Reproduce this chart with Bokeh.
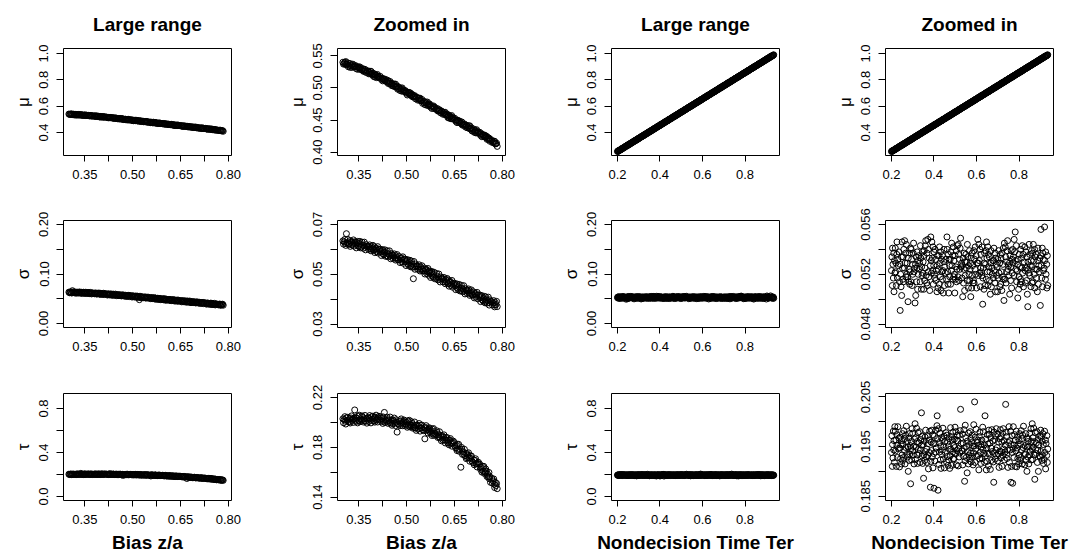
from bokeh.plotting import figure
from bokeh.layouts import column, row
from bokeh.models import Range1d, FixedTicker, PrintfTickFormatter, Title
from bokeh.embed import file_html
from bokeh.resources import INLINE

# ---------------- data ----------------
bias_x = [
    0.300, 0.302, 0.304, 0.306, 0.308, 0.309, 0.311, 0.313, 0.315, 0.317,
    0.320, 0.322, 0.323, 0.325, 0.327, 0.329, 0.331, 0.333, 0.335, 0.337,
    0.339, 0.340, 0.342, 0.344, 0.346, 0.348, 0.350, 0.351, 0.353, 0.355,
    0.358, 0.360, 0.362, 0.364, 0.366, 0.367, 0.369, 0.371, 0.373, 0.375,
    0.379, 0.381, 0.382, 0.384, 0.386, 0.388, 0.390, 0.392, 0.394, 0.396,
    0.397, 0.398, 0.400, 0.402, 0.404, 0.406, 0.408, 0.409, 0.411, 0.413,
    0.417, 0.419, 0.421, 0.423, 0.425, 0.426, 0.428, 0.430, 0.432, 0.434,
    0.437, 0.439, 0.440, 0.442, 0.444, 0.446, 0.448, 0.450, 0.452, 0.454,
    0.456, 0.457, 0.459, 0.461, 0.463, 0.465, 0.467, 0.468, 0.470, 0.472,
    0.475, 0.477, 0.479, 0.481, 0.483, 0.484, 0.486, 0.488, 0.490, 0.492,
    0.495, 0.497, 0.498, 0.500, 0.502, 0.504, 0.506, 0.508, 0.510, 0.512,
    0.514, 0.515, 0.517, 0.519, 0.521, 0.523, 0.525, 0.526, 0.528, 0.530,
    0.533, 0.535, 0.537, 0.539, 0.541, 0.542, 0.544, 0.546, 0.548, 0.550,
    0.554, 0.556, 0.557, 0.559, 0.561, 0.563, 0.565, 0.567, 0.569, 0.571,
    0.572, 0.573, 0.575, 0.577, 0.579, 0.581, 0.583, 0.584, 0.586, 0.588,
    0.592, 0.594, 0.596, 0.598, 0.600, 0.601, 0.603, 0.605, 0.607, 0.609,
    0.612, 0.614, 0.615, 0.617, 0.619, 0.621, 0.623, 0.625, 0.627, 0.629,
    0.630, 0.631, 0.633, 0.635, 0.637, 0.639, 0.641, 0.642, 0.644, 0.646,
    0.650, 0.652, 0.654, 0.656, 0.658, 0.659, 0.661, 0.663, 0.665, 0.667,
    0.670, 0.672, 0.673, 0.675, 0.677, 0.679, 0.681, 0.683, 0.685, 0.687,
    0.689, 0.690, 0.692, 0.694, 0.696, 0.698, 0.700, 0.701, 0.703, 0.705,
    0.708, 0.710, 0.712, 0.714, 0.716, 0.717, 0.719, 0.721, 0.723, 0.725,
    0.729, 0.731, 0.732, 0.734, 0.736, 0.738, 0.740, 0.742, 0.744, 0.746,
    0.747, 0.748, 0.750, 0.752, 0.754, 0.756, 0.758, 0.759, 0.761, 0.763,
    0.767, 0.769, 0.771, 0.773, 0.775, 0.776, 0.778, 0.780, 0.782, 0.784]
bias_mu = [
    0.540, 0.537, 0.538, 0.540, 0.537, 0.541, 0.536, 0.537, 0.539, 0.533,
    0.535, 0.538, 0.532, 0.535, 0.536, 0.532, 0.537, 0.533, 0.534, 0.533,
    0.535, 0.533, 0.530, 0.533, 0.529, 0.532, 0.531, 0.533, 0.529, 0.532,
    0.529, 0.528, 0.530, 0.526, 0.528, 0.526, 0.529, 0.526, 0.524, 0.527,
    0.526, 0.522, 0.524, 0.526, 0.522, 0.526, 0.521, 0.522, 0.523, 0.518,
    0.520, 0.522, 0.517, 0.520, 0.520, 0.516, 0.521, 0.517, 0.518, 0.517,
    0.518, 0.515, 0.513, 0.515, 0.511, 0.514, 0.513, 0.514, 0.511, 0.513,
    0.510, 0.509, 0.512, 0.507, 0.510, 0.507, 0.510, 0.507, 0.504, 0.507,
    0.506, 0.503, 0.504, 0.506, 0.502, 0.506, 0.501, 0.502, 0.503, 0.498,
    0.499, 0.501, 0.496, 0.498, 0.499, 0.495, 0.500, 0.495, 0.497, 0.495,
    0.496, 0.494, 0.492, 0.494, 0.489, 0.493, 0.491, 0.493, 0.489, 0.492,
    0.489, 0.488, 0.490, 0.486, 0.488, 0.486, 0.488, 0.486, 0.483, 0.486,
    0.485, 0.481, 0.483, 0.484, 0.481, 0.484, 0.480, 0.480, 0.482, 0.476,
    0.477, 0.479, 0.474, 0.477, 0.477, 0.473, 0.478, 0.473, 0.475, 0.473,
    0.475, 0.473, 0.470, 0.472, 0.468, 0.471, 0.470, 0.472, 0.468, 0.470,
    0.467, 0.466, 0.468, 0.464, 0.466, 0.464, 0.466, 0.464, 0.461, 0.464,
    0.463, 0.459, 0.461, 0.462, 0.459, 0.462, 0.458, 0.458, 0.459, 0.454,
    0.456, 0.458, 0.453, 0.455, 0.456, 0.452, 0.457, 0.452, 0.454, 0.452,
    0.453, 0.450, 0.448, 0.450, 0.446, 0.450, 0.448, 0.449, 0.446, 0.448,
    0.445, 0.444, 0.447, 0.442, 0.444, 0.442, 0.444, 0.442, 0.439, 0.442,
    0.441, 0.438, 0.439, 0.441, 0.437, 0.441, 0.436, 0.437, 0.438, 0.433,
    0.434, 0.436, 0.431, 0.433, 0.434, 0.430, 0.435, 0.430, 0.432, 0.430,
    0.431, 0.428, 0.426, 0.429, 0.424, 0.427, 0.426, 0.427, 0.424, 0.426,
    0.424, 0.423, 0.425, 0.420, 0.423, 0.420, 0.422, 0.420, 0.417, 0.420,
    0.418, 0.415, 0.416, 0.417, 0.414, 0.417, 0.413, 0.413, 0.414, 0.409]
bias_sigma = [
    0.0634, 0.0621, 0.0630, 0.0640, 0.0624, 0.0616, 0.0663, 0.0627, 0.0640, 0.0620,
    0.0622, 0.0635, 0.0612, 0.0628, 0.0632, 0.0617, 0.0624, 0.0638, 0.0613, 0.0628,
    0.0631, 0.0621, 0.0606, 0.0627, 0.0632, 0.0615, 0.0611, 0.0623, 0.0632, 0.0606,
    0.0610, 0.0629, 0.0618, 0.0604, 0.0615, 0.0629, 0.0608, 0.0598, 0.0619, 0.0612,
    0.0613, 0.0600, 0.0609, 0.0618, 0.0602, 0.0594, 0.0611, 0.0603, 0.0616, 0.0596,
    0.0598, 0.0611, 0.0587, 0.0603, 0.0606, 0.0590, 0.0597, 0.0611, 0.0585, 0.0600,
    0.0601, 0.0590, 0.0575, 0.0595, 0.0599, 0.0583, 0.0578, 0.0589, 0.0598, 0.0572,
    0.0575, 0.0594, 0.0584, 0.0570, 0.0580, 0.0594, 0.0573, 0.0562, 0.0583, 0.0576,
    0.0578, 0.0564, 0.0573, 0.0582, 0.0565, 0.0557, 0.0574, 0.0566, 0.0579, 0.0558,
    0.0559, 0.0571, 0.0547, 0.0563, 0.0566, 0.0550, 0.0557, 0.0570, 0.0544, 0.0559,
    0.0561, 0.0550, 0.0535, 0.0555, 0.0559, 0.0542, 0.0536, 0.0547, 0.0556, 0.0530,
    0.0534, 0.0553, 0.0542, 0.0528, 0.0482, 0.0551, 0.0530, 0.0520, 0.0541, 0.0533,
    0.0534, 0.0520, 0.0529, 0.0538, 0.0520, 0.0513, 0.0529, 0.0521, 0.0534, 0.0513,
    0.0513, 0.0525, 0.0501, 0.0517, 0.0520, 0.0503, 0.0510, 0.0523, 0.0496, 0.0511,
    0.0513, 0.0503, 0.0487, 0.0507, 0.0511, 0.0493, 0.0488, 0.0499, 0.0508, 0.0482,
    0.0484, 0.0503, 0.0492, 0.0477, 0.0487, 0.0501, 0.0480, 0.0469, 0.0489, 0.0482,
    0.0484, 0.0469, 0.0479, 0.0487, 0.0470, 0.0462, 0.0479, 0.0470, 0.0483, 0.0462,
    0.0464, 0.0477, 0.0452, 0.0468, 0.0471, 0.0455, 0.0461, 0.0475, 0.0448, 0.0463,
    0.0464, 0.0453, 0.0438, 0.0457, 0.0461, 0.0445, 0.0439, 0.0450, 0.0459, 0.0433,
    0.0436, 0.0455, 0.0444, 0.0430, 0.0440, 0.0454, 0.0432, 0.0421, 0.0442, 0.0435,
    0.0437, 0.0423, 0.0432, 0.0441, 0.0424, 0.0415, 0.0432, 0.0424, 0.0437, 0.0416,
    0.0417, 0.0429, 0.0405, 0.0421, 0.0423, 0.0408, 0.0415, 0.0427, 0.0401, 0.0416,
    0.0417, 0.0405, 0.0390, 0.0410, 0.0414, 0.0397, 0.0392, 0.0402, 0.0411, 0.0385,
    0.0390, 0.0409, 0.0398, 0.0384, 0.0394, 0.0408, 0.0386, 0.0376, 0.0397, 0.0390,
    0.0390, 0.0376, 0.0385, 0.0394, 0.0377, 0.0369, 0.0386, 0.0378, 0.0391, 0.0370]
bias_tau = [
    0.2029, 0.1997, 0.2023, 0.2046, 0.2009, 0.1987, 0.2036, 0.2017, 0.2041, 0.2006,
    0.2002, 0.2029, 0.1995, 0.2036, 0.2052, 0.2016, 0.2025, 0.2000, 0.2033, 0.2100,
    0.2043, 0.2019, 0.2008, 0.2033, 0.1996, 0.2048, 0.2014, 0.2058, 0.2006, 0.2026,
    0.2018, 0.2052, 0.2040, 0.2003, 0.2028, 0.2013, 0.2056, 0.2009, 0.2032, 0.1994,
    0.2039, 0.2007, 0.2032, 0.2055, 0.2018, 0.1996, 0.2045, 0.2026, 0.2050, 0.2014,
    0.2010, 0.2036, 0.2002, 0.2042, 0.2058, 0.2020, 0.2028, 0.2003, 0.2034, 0.2049,
    0.2043, 0.2018, 0.2006, 0.2030, 0.1992, 0.2044, 0.2008, 0.2080, 0.1999, 0.2018,
    0.2009, 0.2042, 0.2029, 0.1992, 0.2016, 0.2000, 0.2043, 0.1995, 0.2017, 0.1977,
    0.2021, 0.1989, 0.2013, 0.2035, 0.1997, 0.1974, 0.2021, 0.2002, 0.1922, 0.1988,
    0.1983, 0.2008, 0.1973, 0.2013, 0.2028, 0.1991, 0.1999, 0.1973, 0.2004, 0.2019,
    0.2012, 0.1987, 0.1976, 0.1999, 0.1961, 0.2011, 0.1975, 0.2017, 0.1964, 0.1983,
    0.1973, 0.2006, 0.1992, 0.1954, 0.1977, 0.1961, 0.2003, 0.1955, 0.1976, 0.1936,
    0.1979, 0.1946, 0.1969, 0.1991, 0.1952, 0.1930, 0.1976, 0.1956, 0.1978, 0.1941,
    0.1933, 0.1956, 0.1868, 0.1960, 0.1974, 0.1935, 0.1942, 0.1914, 0.1944, 0.1957,
    0.1951, 0.1926, 0.1913, 0.1934, 0.1895, 0.1945, 0.1908, 0.1951, 0.1896, 0.1914,
    0.1902, 0.1933, 0.1918, 0.1879, 0.1902, 0.1885, 0.1925, 0.1875, 0.1895, 0.1852,
    0.1892, 0.1857, 0.1880, 0.1900, 0.1860, 0.1835, 0.1879, 0.1857, 0.1878, 0.1838,
    0.1833, 0.1857, 0.1820, 0.1858, 0.1870, 0.1830, 0.1836, 0.1809, 0.1838, 0.1850,
    0.1838, 0.1810, 0.1795, 0.1815, 0.1774, 0.1823, 0.1784, 0.1824, 0.1768, 0.1784,
    0.1640, 0.1799, 0.1785, 0.1743, 0.1764, 0.1745, 0.1784, 0.1733, 0.1752, 0.1709,
    0.1750, 0.1716, 0.1737, 0.1756, 0.1715, 0.1688, 0.1732, 0.1711, 0.1730, 0.1689,
    0.1678, 0.1699, 0.1660, 0.1696, 0.1708, 0.1668, 0.1672, 0.1642, 0.1670, 0.1680,
    0.1665, 0.1637, 0.1623, 0.1642, 0.1601, 0.1648, 0.1608, 0.1647, 0.1590, 0.1606,
    0.1595, 0.1626, 0.1609, 0.1565, 0.1584, 0.1562, 0.1598, 0.1548, 0.1564, 0.1519,
    0.1550, 0.1512, 0.1530, 0.1546, 0.1503, 0.1477, 0.1519, 0.1493, 0.1510, 0.1468]

ter_x = [
    0.200, 0.202, 0.204, 0.205, 0.207, 0.209, 0.211, 0.212, 0.214, 0.216,
    0.218, 0.219, 0.221, 0.223, 0.225, 0.226, 0.228, 0.230, 0.232, 0.235,
    0.238, 0.240, 0.241, 0.243, 0.245, 0.247, 0.248, 0.250, 0.252, 0.253,
    0.255, 0.257, 0.258, 0.261, 0.262, 0.264, 0.267, 0.268, 0.270, 0.272,
    0.274, 0.276, 0.278, 0.279, 0.281, 0.283, 0.285, 0.286, 0.288, 0.290,
    0.292, 0.293, 0.295, 0.297, 0.299, 0.300, 0.302, 0.304, 0.306, 0.309,
    0.311, 0.313, 0.314, 0.316, 0.318, 0.320, 0.321, 0.323, 0.325, 0.326,
    0.329, 0.331, 0.332, 0.335, 0.336, 0.338, 0.341, 0.342, 0.344, 0.346,
    0.347, 0.349, 0.351, 0.352, 0.354, 0.356, 0.358, 0.359, 0.361, 0.363,
    0.366, 0.367, 0.369, 0.371, 0.373, 0.374, 0.376, 0.378, 0.380, 0.383,
    0.385, 0.387, 0.388, 0.390, 0.392, 0.394, 0.395, 0.397, 0.399, 0.400,
    0.402, 0.404, 0.405, 0.408, 0.409, 0.411, 0.414, 0.415, 0.417, 0.419,
    0.421, 0.423, 0.425, 0.426, 0.428, 0.430, 0.432, 0.433, 0.435, 0.437,
    0.439, 0.440, 0.442, 0.444, 0.446, 0.447, 0.449, 0.451, 0.453, 0.456,
    0.459, 0.461, 0.462, 0.464, 0.466, 0.468, 0.469, 0.471, 0.473, 0.474,
    0.476, 0.478, 0.479, 0.482, 0.483, 0.485, 0.488, 0.489, 0.491, 0.493,
    0.494, 0.496, 0.498, 0.499, 0.501, 0.503, 0.505, 0.506, 0.508, 0.510,
    0.513, 0.514, 0.516, 0.518, 0.520, 0.521, 0.523, 0.525, 0.527, 0.530,
    0.532, 0.534, 0.535, 0.537, 0.539, 0.541, 0.542, 0.544, 0.546, 0.547,
    0.550, 0.552, 0.553, 0.556, 0.557, 0.559, 0.562, 0.563, 0.565, 0.567,
    0.568, 0.570, 0.572, 0.573, 0.575, 0.577, 0.579, 0.580, 0.582, 0.584,
    0.586, 0.587, 0.589, 0.591, 0.593, 0.594, 0.596, 0.598, 0.600, 0.603,
    0.606, 0.608, 0.609, 0.611, 0.613, 0.615, 0.616, 0.618, 0.620, 0.621,
    0.623, 0.625, 0.626, 0.629, 0.630, 0.632, 0.635, 0.636, 0.638, 0.640,
    0.642, 0.644, 0.646, 0.647, 0.649, 0.651, 0.653, 0.654, 0.656, 0.658,
    0.660, 0.661, 0.663, 0.665, 0.667, 0.668, 0.670, 0.672, 0.674, 0.677,
    0.679, 0.681, 0.682, 0.684, 0.686, 0.688, 0.689, 0.691, 0.693, 0.694,
    0.697, 0.699, 0.700, 0.703, 0.704, 0.706, 0.709, 0.710, 0.712, 0.714,
    0.715, 0.717, 0.719, 0.720, 0.722, 0.724, 0.726, 0.727, 0.729, 0.731,
    0.734, 0.735, 0.737, 0.739, 0.741, 0.742, 0.744, 0.746, 0.748, 0.751,
    0.753, 0.755, 0.756, 0.758, 0.760, 0.762, 0.763, 0.765, 0.767, 0.768,
    0.770, 0.772, 0.773, 0.776, 0.777, 0.779, 0.782, 0.783, 0.785, 0.787,
    0.789, 0.791, 0.793, 0.794, 0.796, 0.798, 0.800, 0.801, 0.803, 0.805,
    0.807, 0.808, 0.810, 0.812, 0.814, 0.815, 0.817, 0.819, 0.821, 0.824,
    0.827, 0.829, 0.830, 0.832, 0.834, 0.836, 0.837, 0.839, 0.841, 0.842,
    0.844, 0.846, 0.847, 0.850, 0.851, 0.853, 0.856, 0.857, 0.859, 0.861,
    0.862, 0.864, 0.866, 0.867, 0.869, 0.871, 0.873, 0.874, 0.876, 0.878,
    0.881, 0.882, 0.884, 0.886, 0.888, 0.889, 0.891, 0.893, 0.895, 0.898,
    0.900, 0.902, 0.903, 0.905, 0.907, 0.909, 0.910, 0.912, 0.914, 0.915,
    0.918, 0.920, 0.921, 0.924, 0.925, 0.927, 0.930, 0.931, 0.933, 0.935]
ter_mu = [
    0.256, 0.256, 0.259, 0.262, 0.260, 0.265, 0.266, 0.266, 0.270, 0.269,
    0.272, 0.274, 0.278, 0.276, 0.281, 0.281, 0.282, 0.286, 0.285, 0.291,
    0.293, 0.297, 0.294, 0.299, 0.300, 0.301, 0.304, 0.303, 0.308, 0.307,
    0.312, 0.310, 0.314, 0.316, 0.316, 0.320, 0.320, 0.324, 0.324, 0.327,
    0.330, 0.330, 0.333, 0.336, 0.334, 0.339, 0.340, 0.340, 0.344, 0.343,
    0.346, 0.348, 0.352, 0.350, 0.355, 0.355, 0.356, 0.360, 0.359, 0.365,
    0.366, 0.370, 0.367, 0.372, 0.373, 0.374, 0.377, 0.376, 0.381, 0.380,
    0.386, 0.384, 0.388, 0.390, 0.390, 0.394, 0.394, 0.398, 0.398, 0.401,
    0.403, 0.403, 0.406, 0.409, 0.407, 0.412, 0.413, 0.413, 0.417, 0.416,
    0.420, 0.422, 0.426, 0.424, 0.429, 0.429, 0.430, 0.434, 0.433, 0.439,
    0.440, 0.444, 0.441, 0.446, 0.447, 0.448, 0.451, 0.450, 0.455, 0.454,
    0.459, 0.457, 0.461, 0.463, 0.463, 0.467, 0.467, 0.471, 0.471, 0.474,
    0.477, 0.477, 0.480, 0.483, 0.481, 0.486, 0.487, 0.487, 0.491, 0.490,
    0.493, 0.495, 0.499, 0.497, 0.502, 0.502, 0.503, 0.507, 0.506, 0.512,
    0.514, 0.518, 0.515, 0.520, 0.521, 0.522, 0.525, 0.524, 0.529, 0.528,
    0.533, 0.531, 0.535, 0.537, 0.537, 0.541, 0.541, 0.545, 0.545, 0.548,
    0.550, 0.550, 0.553, 0.556, 0.554, 0.559, 0.560, 0.560, 0.564, 0.563,
    0.567, 0.569, 0.573, 0.571, 0.576, 0.576, 0.577, 0.581, 0.580, 0.586,
    0.587, 0.591, 0.588, 0.593, 0.594, 0.595, 0.598, 0.597, 0.602, 0.601,
    0.607, 0.605, 0.609, 0.611, 0.611, 0.615, 0.615, 0.619, 0.619, 0.622,
    0.624, 0.624, 0.627, 0.630, 0.628, 0.633, 0.634, 0.634, 0.638, 0.637,
    0.640, 0.642, 0.646, 0.644, 0.649, 0.649, 0.650, 0.654, 0.653, 0.659,
    0.661, 0.665, 0.662, 0.667, 0.668, 0.669, 0.672, 0.671, 0.676, 0.675,
    0.680, 0.678, 0.682, 0.684, 0.684, 0.688, 0.688, 0.692, 0.692, 0.695,
    0.698, 0.698, 0.701, 0.704, 0.702, 0.707, 0.708, 0.708, 0.712, 0.711,
    0.714, 0.716, 0.720, 0.718, 0.723, 0.723, 0.724, 0.728, 0.727, 0.733,
    0.734, 0.738, 0.735, 0.740, 0.741, 0.742, 0.745, 0.744, 0.749, 0.748,
    0.754, 0.752, 0.756, 0.758, 0.758, 0.762, 0.762, 0.766, 0.766, 0.769,
    0.771, 0.771, 0.774, 0.777, 0.775, 0.780, 0.781, 0.781, 0.785, 0.784,
    0.788, 0.790, 0.794, 0.792, 0.797, 0.797, 0.798, 0.802, 0.801, 0.807,
    0.808, 0.812, 0.809, 0.814, 0.815, 0.816, 0.819, 0.818, 0.823, 0.822,
    0.827, 0.825, 0.829, 0.831, 0.831, 0.835, 0.835, 0.839, 0.839, 0.842,
    0.845, 0.845, 0.848, 0.851, 0.849, 0.854, 0.855, 0.855, 0.859, 0.858,
    0.861, 0.863, 0.867, 0.865, 0.870, 0.870, 0.871, 0.875, 0.874, 0.880,
    0.882, 0.886, 0.883, 0.888, 0.889, 0.890, 0.893, 0.892, 0.897, 0.896,
    0.901, 0.899, 0.903, 0.905, 0.905, 0.909, 0.909, 0.913, 0.913, 0.916,
    0.918, 0.918, 0.921, 0.924, 0.922, 0.927, 0.928, 0.928, 0.932, 0.931,
    0.935, 0.937, 0.941, 0.939, 0.944, 0.944, 0.945, 0.949, 0.948, 0.954,
    0.955, 0.959, 0.956, 0.961, 0.962, 0.963, 0.966, 0.965, 0.970, 0.969,
    0.975, 0.973, 0.977, 0.979, 0.979, 0.983, 0.983, 0.987, 0.987, 0.990]
ter_sigma = [
    0.0523, 0.0534, 0.0511, 0.0541, 0.0528, 0.0517, 0.0537, 0.0506, 0.0531, 0.0521,
    0.0541, 0.0522, 0.0529, 0.0511, 0.0536, 0.0546, 0.0517, 0.0532, 0.0527, 0.0538,
    0.0514, 0.0528, 0.0491, 0.0520, 0.0510, 0.0534, 0.0503, 0.0546, 0.0525, 0.0516,
    0.0534, 0.0514, 0.0540, 0.0525, 0.0547, 0.0529, 0.0537, 0.0518, 0.0544, 0.0520,
    0.0529, 0.0518, 0.0498, 0.0533, 0.0514, 0.0524, 0.0537, 0.0512, 0.0522, 0.0541,
    0.0514, 0.0540, 0.0532, 0.0511, 0.0528, 0.0520, 0.0537, 0.0545, 0.0522, 0.0525,
    0.0497, 0.0528, 0.0503, 0.0534, 0.0514, 0.0525, 0.0538, 0.0508, 0.0531, 0.0520,
    0.0535, 0.0524, 0.0529, 0.0514, 0.0543, 0.0533, 0.0508, 0.0526, 0.0519, 0.0538,
    0.0521, 0.0530, 0.0535, 0.0508, 0.0539, 0.0515, 0.0525, 0.0543, 0.0547, 0.0519,
    0.0513, 0.0537, 0.0511, 0.0548, 0.0522, 0.0540, 0.0518, 0.0533, 0.0507, 0.0527,
    0.0550, 0.0531, 0.0521, 0.0546, 0.0533, 0.0523, 0.0542, 0.0512, 0.0527, 0.0538,
    0.0520, 0.0517, 0.0540, 0.0532, 0.0515, 0.0523, 0.0506, 0.0527, 0.0535, 0.0509,
    0.0524, 0.0535, 0.0512, 0.0542, 0.0529, 0.0518, 0.0538, 0.0507, 0.0532, 0.0522,
    0.0535, 0.0516, 0.0523, 0.0505, 0.0530, 0.0540, 0.0511, 0.0526, 0.0521, 0.0532,
    0.0516, 0.0550, 0.0540, 0.0522, 0.0512, 0.0536, 0.0505, 0.0532, 0.0527, 0.0518,
    0.0532, 0.0512, 0.0538, 0.0523, 0.0545, 0.0527, 0.0535, 0.0516, 0.0542, 0.0518,
    0.0531, 0.0520, 0.0505, 0.0535, 0.0516, 0.0526, 0.0539, 0.0514, 0.0524, 0.0543,
    0.0518, 0.0544, 0.0536, 0.0515, 0.0532, 0.0524, 0.0541, 0.0549, 0.0526, 0.0529,
    0.0517, 0.0527, 0.0502, 0.0533, 0.0513, 0.0524, 0.0537, 0.0507, 0.0530, 0.0519,
    0.0536, 0.0525, 0.0530, 0.0515, 0.0544, 0.0534, 0.0509, 0.0527, 0.0520, 0.0539,
    0.0515, 0.0524, 0.0529, 0.0502, 0.0533, 0.0509, 0.0519, 0.0537, 0.0527, 0.0513,
    0.0515, 0.0539, 0.0513, 0.0532, 0.0524, 0.0542, 0.0520, 0.0535, 0.0509, 0.0529,
    0.0548, 0.0529, 0.0519, 0.0544, 0.0531, 0.0521, 0.0540, 0.0510, 0.0525, 0.0536,
    0.0522, 0.0519, 0.0542, 0.0496, 0.0517, 0.0525, 0.0508, 0.0529, 0.0537, 0.0511,
    0.0528, 0.0539, 0.0516, 0.0546, 0.0533, 0.0522, 0.0542, 0.0511, 0.0536, 0.0526,
    0.0534, 0.0515, 0.0522, 0.0504, 0.0529, 0.0539, 0.0510, 0.0525, 0.0520, 0.0531,
    0.0517, 0.0531, 0.0541, 0.0523, 0.0513, 0.0537, 0.0506, 0.0533, 0.0528, 0.0519,
    0.0526, 0.0506, 0.0532, 0.0517, 0.0539, 0.0521, 0.0529, 0.0510, 0.0536, 0.0512,
    0.0533, 0.0522, 0.0507, 0.0537, 0.0518, 0.0528, 0.0541, 0.0516, 0.0499, 0.0545,
    0.0516, 0.0542, 0.0534, 0.0513, 0.0530, 0.0522, 0.0539, 0.0547, 0.0524, 0.0527,
    0.0519, 0.0529, 0.0504, 0.0535, 0.0515, 0.0526, 0.0539, 0.0509, 0.0532, 0.0521,
    0.0540, 0.0529, 0.0534, 0.0519, 0.0548, 0.0538, 0.0554, 0.0531, 0.0524, 0.0543,
    0.0514, 0.0523, 0.0528, 0.0501, 0.0532, 0.0508, 0.0518, 0.0536, 0.0526, 0.0512,
    0.0516, 0.0540, 0.0514, 0.0533, 0.0525, 0.0543, 0.0521, 0.0536, 0.0510, 0.0530,
    0.0542, 0.0523, 0.0513, 0.0538, 0.0525, 0.0515, 0.0534, 0.0504, 0.0494, 0.0530,
    0.0524, 0.0521, 0.0544, 0.0536, 0.0519, 0.0527, 0.0510, 0.0531, 0.0539, 0.0513,
    0.0526, 0.0537, 0.0514, 0.0544, 0.0531, 0.0520, 0.0540, 0.0509, 0.0534, 0.0524,
    0.0536, 0.0517, 0.0524, 0.0506, 0.0531, 0.0541, 0.0512, 0.0527, 0.0522, 0.0533,
    0.0495, 0.0535, 0.0556, 0.0527, 0.0517, 0.0541, 0.0510, 0.0537, 0.0532, 0.0523,
    0.0525, 0.0558, 0.0531, 0.0516, 0.0538, 0.0520, 0.0528, 0.0509, 0.0535, 0.0511]
ter_tau = [
    0.1938, 0.1972, 0.1910, 0.1954, 0.1927, 0.1981, 0.1943, 0.1962, 0.1918, 0.1990,
    0.1981, 0.1941, 0.1963, 0.1910, 0.1974, 0.1953, 0.1928, 0.1990, 0.1946, 0.1967,
    0.1909, 0.1947, 0.1969, 0.1926, 0.1954, 0.1915, 0.1962, 0.1933, 0.1976, 0.1922,
    0.1955, 0.1928, 0.1982, 0.1942, 0.1966, 0.1915, 0.1973, 0.1948, 0.1991, 0.1934,
    0.1960, 0.1929, 0.1949, 0.1900, 0.1967, 0.1922, 0.1976, 0.1935, 0.1952, 0.1875,
    0.1946, 0.1960, 0.1923, 0.1986, 0.1941, 0.1977, 0.1933, 0.1950, 0.1915, 0.1965,
    0.1996, 0.1924, 0.1968, 0.1949, 0.1987, 0.1933, 0.1960, 0.1916, 0.1978, 0.1944,
    0.1957, 0.1936, 0.1980, 0.1918, 0.1943, 0.1964, 0.2018, 0.1953, 0.1931, 0.1971,
    0.1916, 0.1954, 0.1886, 0.1933, 0.1961, 0.1922, 0.1969, 0.1940, 0.1983, 0.1929,
    0.1945, 0.1918, 0.1972, 0.1932, 0.1956, 0.1905, 0.1963, 0.1938, 0.1981, 0.1868,
    0.1920, 0.1959, 0.1942, 0.1983, 0.1929, 0.1974, 0.1907, 0.1956, 0.1936, 0.1866,
    0.1971, 0.1921, 0.1956, 0.1939, 0.1983, 0.1947, 0.1992, 0.2012, 0.1966, 0.1862,
    0.1986, 0.1914, 0.1958, 0.1939, 0.1977, 0.1923, 0.1950, 0.1906, 0.1968, 0.1934,
    0.1964, 0.1943, 0.1987, 0.1925, 0.1950, 0.1971, 0.1907, 0.1960, 0.1938, 0.1978,
    0.1919, 0.1973, 0.1930, 0.1959, 0.1912, 0.1951, 0.1923, 0.1966, 0.1944, 0.1906,
    0.1931, 0.1988, 0.1945, 0.1970, 0.1912, 0.1963, 0.1939, 0.1979, 0.1925, 0.1952,
    0.1926, 0.1965, 0.1948, 0.1989, 0.1935, 0.1980, 0.1913, 0.1962, 0.1942, 0.1973,
    0.1961, 0.1911, 0.1946, 0.1929, 0.1973, 0.1937, 0.1982, 0.2025, 0.1956, 0.1942,
    0.1941, 0.1975, 0.1913, 0.1957, 0.1930, 0.1984, 0.1946, 0.1880, 0.1921, 0.1993,
    0.1968, 0.1928, 0.1950, 0.1897, 0.1961, 0.1940, 0.1915, 0.1977, 0.1933, 0.1954,
    0.1926, 0.1980, 0.1937, 0.1966, 0.1919, 0.1958, 0.1930, 0.1973, 0.1951, 0.1913,
    0.1937, 0.1994, 0.1951, 0.2040, 0.1918, 0.1969, 0.1945, 0.1985, 0.1931, 0.1958,
    0.1963, 0.1932, 0.1952, 0.1903, 0.1970, 0.1925, 0.1979, 0.1938, 0.1955, 0.1916,
    0.1949, 0.1963, 0.1926, 0.1989, 0.1944, 0.1980, 0.1936, 0.1953, 0.1918, 0.2012,
    0.1931, 0.1965, 0.1903, 0.1947, 0.1920, 0.1974, 0.1936, 0.1955, 0.1911, 0.1983,
    0.1975, 0.1935, 0.1957, 0.1904, 0.1968, 0.1947, 0.1922, 0.1984, 0.1940, 0.1961,
    0.1919, 0.1878, 0.1979, 0.1936, 0.1964, 0.1925, 0.1972, 0.1943, 0.1986, 0.1932,
    0.1948, 0.1921, 0.1975, 0.1935, 0.1959, 0.1908, 0.1966, 0.1941, 0.1984, 0.1927,
    0.1970, 0.1939, 0.1959, 0.1910, 0.1977, 0.1932, 0.1986, 0.1945, 0.1962, 0.1923,
    0.1939, 0.1953, 0.2035, 0.1979, 0.1934, 0.1970, 0.1926, 0.1943, 0.1908, 0.1958,
    0.1990, 0.1918, 0.1962, 0.1943, 0.1981, 0.1878, 0.1954, 0.1910, 0.1972, 0.1938,
    0.1876, 0.1946, 0.1990, 0.1928, 0.1953, 0.1974, 0.1910, 0.1963, 0.1941, 0.1981,
    0.1909, 0.1947, 0.1969, 0.1926, 0.1954, 0.1915, 0.1962, 0.1933, 0.1976, 0.1922,
    0.1955, 0.1928, 0.1982, 0.1942, 0.1966, 0.1915, 0.1973, 0.1948, 0.1991, 0.1934,
    0.1913, 0.1952, 0.1935, 0.1976, 0.1922, 0.1967, 0.1900, 0.1949, 0.1929, 0.1960,
    0.1965, 0.1915, 0.1950, 0.1933, 0.1977, 0.1941, 0.1986, 0.1923, 0.1960, 0.1946,
    0.1996, 0.1924, 0.1968, 0.1949, 0.1987, 0.1933, 0.1960, 0.1884, 0.1978, 0.1944,
    0.1957, 0.1936, 0.1980, 0.1918, 0.1943, 0.1964, 0.1900, 0.1953, 0.1931, 0.1971,
    0.1929, 0.1983, 0.1940, 0.1969, 0.1922, 0.1961, 0.1933, 0.1976, 0.1954, 0.1916,
    0.1924, 0.1981, 0.1938, 0.1963, 0.1905, 0.1956, 0.1932, 0.1972, 0.1918, 0.1945]

col_titles = ["Large range", "Zoomed in", "Large range", "Zoomed in"]
x_titles = ["Bias z/a", "Bias z/a", "Nondecision Time Ter", "Nondecision Time Ter"]
row_labels = ["\u03bc", "\u03c3", "\u03c4"]

bias_xticks = [0.35, 0.50, 0.65, 0.80]
bias_xminor = [0.425, 0.575, 0.725]
ter_xticks = [0.2, 0.4, 0.6, 0.8]

# y axis spec per (row, col): (range, labelled ticks, unlabelled ticks, format)
mu_large = ((0.225, 1.038), [0.4, 0.6, 0.8, 1.0], [], "%.1f")
y_specs = {
    (0, 0): mu_large,
    (0, 1): ((0.3948, 0.5614), [0.40, 0.45, 0.50, 0.55], [], "%.2f"),
    (0, 2): mu_large,
    (0, 3): mu_large,
    (1, 0): ((-0.008, 0.208), [0.00, 0.10, 0.20], [0.05, 0.15], "%.2f"),
    (1, 1): ((0.0286, 0.0716), [0.03, 0.05, 0.07], [0.04, 0.06], "%.2f"),
    (1, 2): ((-0.008, 0.208), [0.00, 0.10, 0.20], [0.05, 0.15], "%.2f"),
    (1, 3): ((0.04773, 0.05632), [0.048, 0.052, 0.056], [0.050, 0.054], "%.3f"),
    (2, 0): ((-0.036, 0.936), [0.0, 0.4, 0.8], [0.2, 0.6], "%.1f"),
    (2, 1): ((0.1373, 0.2232), [0.14, 0.18, 0.22], [0.16, 0.20], "%.2f"),
    (2, 2): ((-0.036, 0.936), [0.0, 0.4, 0.8], [0.2, 0.6], "%.1f"),
    (2, 3): ((0.18413, 0.20569), [0.185, 0.195, 0.205], [0.190, 0.200], "%.3f"),
}

FONT = "Liberation Sans"
col_widths = [274, 274, 274, 253]
row_heights = [185, 173, 201]
row_top = [48, 35, 35]
row_bottom = [30, 31, 59]
FRAME_W = 168


def style_axis(ax, fmt, ticks, minor, standoff):
    ax.ticker = FixedTicker(ticks=ticks, minor_ticks=minor)
    ax.formatter = PrintfTickFormatter(format=fmt)
    ax.axis_line_color = None
    ax.major_tick_in = 0
    ax.major_tick_out = 6
    ax.minor_tick_in = 0
    ax.minor_tick_out = 6
    ax.major_tick_line_color = "black"
    ax.minor_tick_line_color = "black"
    ax.major_label_text_font = FONT
    ax.major_label_text_font_size = "13px"
    ax.major_label_text_color = "black"
    ax.major_label_standoff = standoff


rows = []
for r in range(3):
    figs = []
    for c in range(4):
        if c < 2:
            xs = bias_x
            ys = [bias_mu, bias_sigma, bias_tau][r]
            xr = (0.283, 0.81)
            xt, xm, xf = bias_xticks, bias_xminor, "%.2f"
        else:
            xs = ter_x
            ys = [ter_mu, ter_sigma, ter_tau][r]
            xr = (0.172, 0.962)
            xt, xm, xf = ter_xticks, [], "%.1f"
        yr, yt, ym, yf = y_specs[(r, c)]
        w = col_widths[c]
        p = figure(width=w, height=row_heights[r],
                   x_range=Range1d(*xr), y_range=Range1d(*yr),
                   output_backend="svg", toolbar_location=None,
                   min_border_left=63, min_border_right=w - 63 - FRAME_W,
                   min_border_top=row_top[r], min_border_bottom=row_bottom[r])
        p.scatter(xs, ys, marker="circle", size=6, fill_color=None,
                  line_color="black", line_width=1)
        p.grid.visible = False
        p.outline_line_color = "black"
        p.outline_line_width = 1
        p.background_fill_color = "white"
        p.border_fill_color = "white"
        style_axis(p.xaxis[0], xf, xt, xm, 8)
        style_axis(p.yaxis[0], yf, yt, ym, 8)
        p.yaxis[0].major_label_orientation = "vertical"
        p.yaxis[0].major_tick_out = 7
        p.yaxis[0].minor_tick_out = 7
        # y-axis title (Greek parameter symbol) as a side title on the left
        p.add_layout(Title(text=row_labels[r], align="center", vertical_align="bottom",
                           standoff=8, text_font=FONT, text_font_size="17px",
                           text_font_style="normal", text_color="black"), "left")
        if r == 0:
            p.title.text = col_titles[c]
            p.title.align = "center"
            p.title.vertical_align = "top"
            p.title.text_font = FONT
            p.title.text_font_size = "19px"
            p.title.text_font_style = "bold"
            p.title.text_color = "black"
            p.title.standoff = 24
        if r == 2:
            p.xaxis[0].axis_label = x_titles[c]
            p.xaxis[0].axis_label_text_font = FONT
            p.xaxis[0].axis_label_text_font_style = "bold"
            p.xaxis[0].axis_label_text_font_size = "19px"
            p.xaxis[0].axis_label_text_color = "black"
            p.xaxis[0].axis_label_standoff = 5
        figs.append(p)
    rows.append(row(*figs))

layout = column(*rows)
open("out.html", "w").write(file_html(layout, INLINE))
